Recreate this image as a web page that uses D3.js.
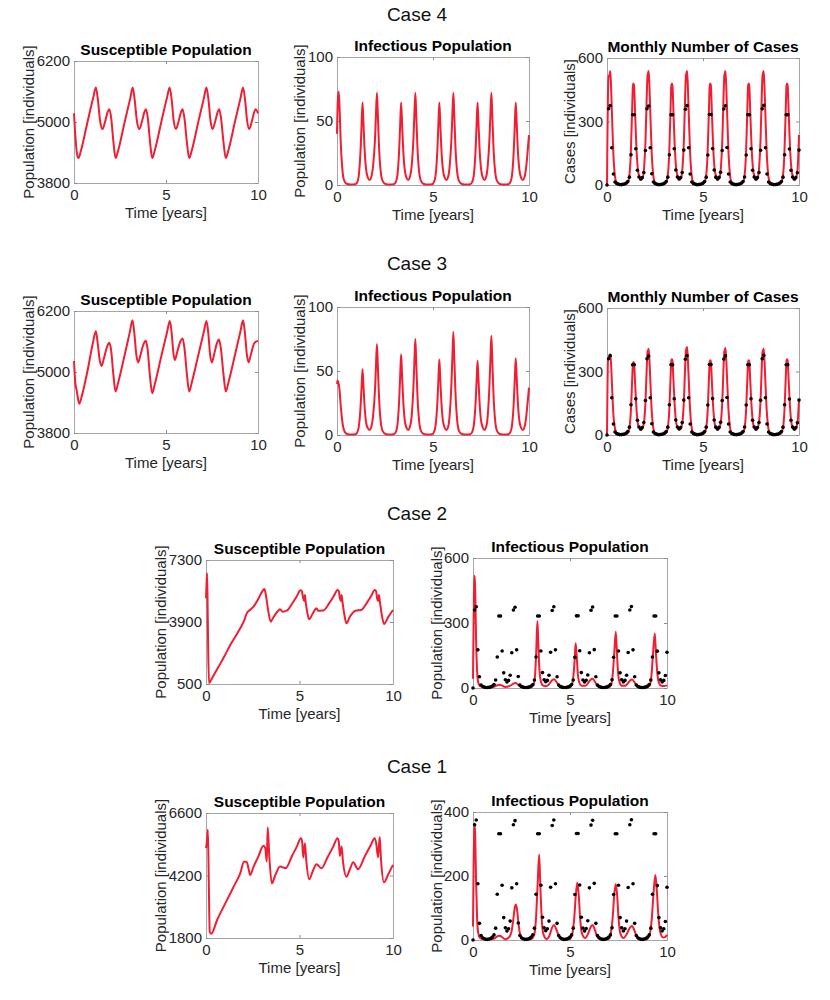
<!DOCTYPE html>
<html>
<meta charset="utf-8">
<style>
  body { margin: 0; background: #fff; }
  text { font-family: "Liberation Sans", Arial, Helvetica, sans-serif; }
  .case-title { font-size: 19px; fill: #111; }
  .panel-title { font-size: 15.5px; font-weight: bold; fill: #000; }
  .axis-label { font-size: 15px; fill: #262626; }
  .model { fill: none; stroke: #f01e32; stroke-width: 2; stroke-linejoin: round; }
  .data { fill: #000; }
</style>
<body>
<script src="https://d3js.org/d3.v7.min.js"></script>
<script>
  // x ticks (years)
  let xTicks = [0, 5, 10];

  // y ticks of each kind of panel
  let ticksS34 = [3800, 5000, 6200];
  let ticksI34 = [0, 50, 100];
  let ticksC34 = [0, 300, 600];
  let ticksS2 = [500, 3900, 7300];
  let ticksI2 = [0, 300, 600];
  let ticksS1 = [1800, 4200, 6600];
  let ticksI1 = [0, 200, 400];

  // observed monthly cases, one value per month from t = 0 to t = 10 years
  let monthlyCases = [
    0, 360, 375, 176, 52, 14, 7, 4, 2, 2, 3, 5, 9, 16, 37, 143, 332, 332, 171, 70, 38, 28, 35, 59,
    163, 360, 373, 176, 53, 14, 7, 4, 2, 2, 3, 5, 9, 16, 37, 143, 332, 332, 171, 71, 38, 29, 35, 59,
    165, 358, 375, 176, 52, 14, 7, 4, 2, 2, 3, 5, 9, 16, 37, 142, 333, 333, 172, 71, 37, 28, 36, 60,
    163, 359, 374, 177, 52, 14, 7, 4, 2, 2, 3, 5, 9, 16, 38, 142, 332, 332, 171, 70, 38, 28, 35, 59,
    164, 360, 376, 176, 52, 14, 7, 4, 2, 2, 3, 5, 9, 16, 37, 143, 332, 332, 170, 70, 38, 28, 35, 58,
    165
  ];

  // model curves, [time in years, value]
  let case4Susceptible = [
    [0,5170],[0.08,4700],[0.16,4380],[0.24,4290],
    [0.38,4440],[0.74,5010],[1.04,5470],[1.19,5680],[1.3,5430],[1.42,5020],[1.55,4860],[1.7,5020],[1.83,5200],[1.92,5250],[2.02,5080],[2.14,4620],[2.26,4290],
    [2.4,4440],[2.76,5010],[3.06,5470],[3.19,5680],[3.3,5430],[3.42,5020],[3.55,4860],[3.7,5020],[3.83,5200],[3.91,5250],[4.01,5080],[4.13,4620],[4.25,4290],
    [4.39,4440],[4.75,5010],[5.05,5470],[5.2,5680],[5.31,5430],[5.42,5020],[5.54,4860],[5.69,5020],[5.82,5200],[5.9,5250],[6.0,5080],[6.13,4620],[6.26,4290],
    [6.4,4440],[6.76,5010],[7.06,5470],[7.2,5680],[7.31,5430],[7.42,5020],[7.53,4860],[7.68,5020],[7.81,5200],[7.89,5250],[7.99,5080],[8.12,4620],[8.25,4290],
    [8.39,4440],[8.75,5010],[9.05,5470],[9.19,5680],[9.3,5430],[9.41,5020],[9.52,4860],[9.67,5020],[9.8,5200],[9.87,5250],[10,5170]
  ];

  let case4Infectious = [
    [0,40],[0.04,65],[0.09,73],[0.14,58],[0.19,35],[0.27,14],[0.36,4],[0.5,1],[0.7,0.3],[0.95,0.6],
    [1.05,2],[1.13,7],[1.23,28],[1.28,47],[1.33,64.5],[1.38,48],[1.43,30],[1.51,13],[1.6,6],[1.7,4],[1.8,7],[1.88,15],[1.98,36],[2.03,55],[2.08,72],[2.13,54],[2.18,33],[2.28,10],[2.38,3],[2.52,0.8],[2.75,0.3],[2.95,0.6],
    [3.05,2],[3.14,7],[3.24,28],[3.29,47],[3.34,64.5],[3.39,48],[3.44,30],[3.52,13],[3.61,6],[3.71,4],[3.81,7],[3.89,15],[3.98,36],[4.03,55],[4.08,72],[4.13,54],[4.18,33],[4.28,10],[4.38,3],[4.52,0.8],[4.75,0.3],[4.95,0.6],
    [5.04,2],[5.13,7],[5.23,28],[5.28,47],[5.33,64.5],[5.38,48],[5.43,30],[5.51,13],[5.6,6],[5.7,4],[5.8,7],[5.87,15],[5.96,36],[6.01,55],[6.06,72],[6.11,54],[6.16,33],[6.26,10],[6.36,3],[6.5,0.8],[6.73,0.3],[6.94,0.6],
    [7.03,2],[7.12,7],[7.22,28],[7.27,47],[7.32,64.5],[7.37,48],[7.42,30],[7.5,13],[7.59,6],[7.68,4],[7.78,7],[7.85,15],[7.94,36],[7.99,55],[8.04,72],[8.09,54],[8.14,33],[8.24,10],[8.34,3],[8.48,0.8],[8.71,0.3],[8.92,0.6],
    [9.02,2],[9.11,7],[9.21,28],[9.26,47],[9.31,64.5],[9.36,48],[9.41,30],[9.49,13],[9.58,6],[9.68,4],[9.78,7],[9.86,15],[9.95,30],[10,39]
  ];

  let case4Monthly = [
    [0,0],[0.02,200],[0.05,430],[0.09,515],[0.13,520],[0.17,539],[0.21,469],[0.27,302],[0.33,151],[0.4,54],[0.48,16],[0.63,4],[0.83,2],[0.98,5],
    [1.08,12],[1.16,41],[1.24,148],[1.31,359],[1.35,469],[1.38,479],[1.41,469],[1.46,350],[1.52,201],[1.6,81],[1.68,41],[1.78,24],
    [1.88,40],[1.94,92],[2.01,221],[2.07,420],[2.11,517],[2.14,528],[2.17,539],[2.21,469],[2.27,302],[2.33,151],[2.4,54],[2.48,16],[2.63,4],[2.83,2],[2.98,5],
    [3.08,12],[3.16,41],[3.24,148],[3.31,359],[3.35,469],[3.38,479],[3.41,469],[3.46,350],[3.52,201],[3.6,81],[3.68,41],[3.78,24],
    [3.88,40],[3.94,92],[4.01,221],[4.07,420],[4.11,517],[4.14,528],[4.17,539],[4.21,469],[4.27,302],[4.33,151],[4.4,54],[4.48,16],[4.63,4],[4.83,2],[4.98,5],
    [5.08,12],[5.16,41],[5.24,148],[5.31,359],[5.35,469],[5.38,479],[5.41,469],[5.46,350],[5.52,201],[5.6,81],[5.68,41],[5.78,24],
    [5.88,40],[5.94,92],[6.01,221],[6.07,420],[6.11,517],[6.14,528],[6.17,539],[6.21,469],[6.27,302],[6.33,151],[6.4,54],[6.48,16],[6.63,4],[6.83,2],[6.98,5],
    [7.08,12],[7.16,41],[7.24,148],[7.31,359],[7.35,469],[7.38,479],[7.41,469],[7.46,350],[7.52,201],[7.6,81],[7.68,41],[7.78,24],
    [7.87,40],[7.93,92],[8.0,221],[8.06,420],[8.1,517],[8.13,528],[8.16,539],[8.2,469],[8.26,302],[8.32,151],[8.39,54],[8.47,16],[8.62,4],[8.82,2],[8.97,5],
    [9.08,12],[9.16,41],[9.24,148],[9.31,359],[9.35,469],[9.38,479],[9.41,469],[9.46,350],[9.52,201],[9.6,81],[9.68,41],[9.78,24],[9.88,45],[9.95,110],[10,236]
  ];

  let case3Susceptible = [
    [0,5215],[0.07,4790],[0.14,4650],[0.29,4374],
    [0.42,4520],[0.75,5050],[1.02,5560],[1.19,5800],[1.29,5560],[1.4,5230],[1.5,5118],[1.62,5260],[1.8,5500],[1.92,5574],[2.02,5420],[2.14,4950],[2.26,4615],
    [2.4,4790],[2.75,5330],[3.03,5780],[3.18,6018],[3.28,5760],[3.39,5330],[3.49,5189],[3.61,5330],[3.78,5550],[3.9,5613],[4.0,5450],[4.12,4950],[4.25,4583],
    [4.39,4760],[4.75,5320],[5.05,5770],[5.21,6004],[5.31,5760],[5.4,5380],[5.48,5235],[5.6,5380],[5.78,5600],[5.9,5659],[6.0,5480],[6.13,4980],[6.26,4615],
    [6.4,4790],[6.76,5340],[7.05,5780],[7.2,6004],[7.3,5760],[7.4,5330],[7.49,5189],[7.61,5340],[7.77,5570],[7.88,5639],[7.98,5470],[8.12,4970],[8.25,4615],
    [8.39,4790],[8.75,5340],[9.04,5790],[9.19,6018],[9.29,5760],[9.4,5330],[9.49,5189],[9.61,5340],[9.8,5570],[10,5613]
  ];

  let case3Infectious = [
    [0,40],[0.03,42.5],[0.07,41],[0.12,37],[0.2,22],[0.3,8],[0.4,2.5],[0.52,0.8],[0.75,0.3],[0.95,0.5],
    [1.05,2],[1.13,6],[1.23,22.6],[1.28,37.5],[1.33,51.4],[1.38,38],[1.43,24],[1.51,10.3],[1.6,5.5],[1.7,4],[1.8,7],[1.88,15],[1.98,35.5],[2.03,54],[2.08,71],[2.13,53],[2.18,32.7],[2.28,10],[2.38,3],[2.52,0.8],[2.75,0.3],[2.95,0.6],
    [3.05,2],[3.14,7],[3.24,27.7],[3.29,46],[3.34,63],[3.39,46.6],[3.44,29.6],[3.52,12.6],[3.61,6],[3.71,4],[3.81,7],[3.89,15],[3.98,37.5],[4.03,57],[4.08,75],[4.13,56],[4.18,34.5],[4.28,10.5],[4.38,3],[4.52,0.8],[4.75,0.3],[4.95,0.6],
    [5.04,2],[5.13,7],[5.23,26],[5.28,43],[5.33,59],[5.38,43.7],[5.43,27.7],[5.51,11.8],[5.6,6],[5.7,4],[5.8,7],[5.87,16],[5.96,40],[6.01,61],[6.06,80.5],[6.11,60],[6.16,37],[6.26,11.3],[6.36,3],[6.5,0.8],[6.73,0.3],[6.94,0.6],
    [7.03,2],[7.12,7],[7.22,25.5],[7.27,42],[7.32,58],[7.37,43],[7.42,27],[7.5,11.6],[7.59,6],[7.68,4],[7.78,7],[7.85,15],[7.94,38.7],[7.99,59],[8.04,77.5],[8.09,58],[8.14,35.6],[8.24,10.8],[8.34,3],[8.48,0.8],[8.71,0.3],[8.92,0.6],
    [9.02,2],[9.11,7],[9.21,26.4],[9.26,44],[9.31,60],[9.36,44.4],[9.41,28],[9.49,12],[9.58,6],[9.68,4],[9.78,7],[9.86,15],[9.95,29],[10,37]
  ];

  let case3Monthly = [
    [0,0],[0.02,180],[0.05,355],[0.09,368],[0.13,375],[0.17,382],[0.21,340],[0.27,215],[0.33,100],[0.4,40],[0.48,12],[0.6,4],[0.85,2],[1.0,5],
    [1.08,9],[1.16,30],[1.24,107],[1.31,259],[1.35,338],[1.38,345],[1.41,338],[1.46,252],[1.52,145],[1.6,59],[1.68,33],[1.78,24],
    [1.88,40],[1.94,69],[2.01,167],[2.07,318],[2.11,392],[2.14,400],[2.17,408],[2.21,355],[2.27,228],[2.33,114],[2.4,41],[2.48,12],[2.63,4],[2.83,2],[2.98,5],
    [3.08,9],[3.16,30],[3.24,111],[3.31,268],[3.35,351],[3.38,358],[3.41,351],[3.46,261],[3.52,150],[3.6,61],[3.68,34],[3.78,24],
    [3.88,40],[3.94,71],[4.01,171],[4.07,324],[4.11,399],[4.14,408],[4.17,416],[4.21,362],[4.27,233],[4.33,116],[4.4,42],[4.48,12],[4.63,4],[4.83,2],[4.98,5],
    [5.08,9],[5.16,30],[5.24,109],[5.31,265],[5.35,346],[5.38,353],[5.41,346],[5.46,258],[5.52,148],[5.6,60],[5.68,33],[5.78,24],
    [5.88,40],[5.94,70],[6.01,168],[6.07,320],[6.11,395],[6.14,403],[6.17,411],[6.21,358],[6.27,230],[6.33,115],[6.4,41],[6.48,12],[6.63,4],[6.83,2],[6.98,5],
    [7.08,9],[7.16,30],[7.24,109],[7.31,265],[7.35,346],[7.38,353],[7.41,346],[7.46,258],[7.52,148],[7.6,60],[7.68,33],[7.78,24],
    [7.87,40],[7.93,69],[8.0,167],[8.06,318],[8.1,392],[8.13,400],[8.16,408],[8.2,355],[8.26,228],[8.32,114],[8.39,41],[8.47,12],[8.62,4],[8.82,2],[8.97,5],
    [9.08,9],[9.16,30],[9.24,111],[9.31,268],[9.35,351],[9.38,358],[9.41,351],[9.46,261],[9.52,150],[9.6,61],[9.68,34],[9.78,24],[9.88,40],[9.95,85],[10,170]
  ];

  let case2Susceptible = [
    [0,5200],[0.03,6000],[0.06,6570],[0.09,4500],[0.12,2200],[0.16,540],[0.3,780],[0.7,1500],[1.0,2050],[1.3,2640],[1.6,3150],[1.83,3553],[2.05,4000],[2.18,4375],[2.35,4560],[2.54,4741],[2.8,5180],[3.05,5640],[3.12,5710],
    [3.2,5400],[3.3,4700],[3.46,3919],[3.6,4150],[3.8,4450],[3.96,4595],[4.1,4467],[4.32,4522],[4.6,4900],[4.85,5300],[5.05,5640],[5.12,5600],
    [5.2,5198],[5.25,5050],[5.29,5381],[5.33,5000],[5.42,4400],[5.52,4047],[5.7,4350],[5.91,4650],[6.0,4522],[6.27,4530],[6.6,4950],[6.85,5350],[7.03,5655],[7.1,5600],
    [7.16,5198],[7.21,5050],[7.25,5381],[7.3,5000],[7.4,4300],[7.51,3827],[7.7,4200],[8.0,4522],[8.3,4558],[8.6,4950],[8.85,5350],[9.02,5655],[9.09,5600],
    [9.15,5198],[9.2,5050],[9.25,5381],[9.3,5000],[9.4,4300],[9.52,3790],[9.75,4180],[10,4558]
  ];

  let case2Infectious = [
    [0,43],[0.03,300],[0.06,480],[0.09,518],[0.12,420],[0.16,220],[0.21,80],[0.27,25],[0.35,10],[0.5,6],[0.8,4],[1.0,5],[1.15,8],[1.27,13],[1.37,15],[1.48,12],[1.66,5],[1.85,8],[2.0,15],[2.1,21],[2.2,23],[2.3,17],[2.42,7],[2.55,2.5],[2.8,1.5],
    [3.0,3],[3.12,15],[3.2,60],[3.26,170],[3.32,309],[3.37,200],[3.42,90],[3.5,30],[3.6,12],[3.75,8],[3.9,15],[4.05,33],[4.18,40],[4.3,28],[4.45,8],[4.6,2.5],[4.85,1.5],
    [5.0,3],[5.1,15],[5.18,60],[5.24,130],[5.29,206],[5.35,140],[5.41,60],[5.5,20],[5.6,10],[5.8,10],[5.95,25],[6.06,38],[6.16,43],[6.28,30],[6.42,9],[6.6,2.5],[6.85,1.5],
    [7.0,3],[7.12,15],[7.2,60],[7.28,160],[7.36,260],[7.42,160],[7.48,70],[7.56,25],[7.68,10],[7.85,10],[8.0,24],[8.1,35],[8.2,39],[8.32,27],[8.46,8],[8.6,2.5],[8.85,1.5],
    [9.0,3],[9.12,15],[9.2,60],[9.28,160],[9.37,252],[9.43,160],[9.5,70],[9.58,25],[9.7,10],[9.85,9],[10,12]
  ];

  let case1Susceptible = [
    [0,5249],[0.05,5500],[0.1,5957],[0.15,3900],[0.2,2032],[0.28,1967],[0.6,2500],[1.12,3254],[1.5,3800],[1.83,4284],[2.04,4734],[2.18,4709],[2.28,4450],[2.36,4220],[2.55,4550],[2.8,4927],[3.07,5339],[3.17,5250],
    [3.25,4734],[3.3,6047],[3.38,5000],[3.52,3898],[3.7,4200],[3.96,4541],[4.26,4477],[4.6,4950],[4.85,5300],[5.08,5635],[5.14,5500],
    [5.2,4889],[5.29,5442],[5.36,4800],[5.52,4052],[5.7,4350],[5.91,4631],[6.18,4477],[6.5,4900],[6.8,5300],[7.03,5635],[7.1,5500],
    [7.16,4950],[7.25,5313],[7.33,4700],[7.51,4155],[7.7,4450],[7.87,4709],[8.13,4438],[8.5,4950],[8.8,5350],[9.02,5635],[9.1,5450],
    [9.2,4900],[9.29,5674],[9.36,4800],[9.52,3936],[9.75,4250],[10,4606]
  ];

  let case1Infectious = [
    [0,42],[0.03,230],[0.06,340],[0.09,364],[0.12,310],[0.16,180],[0.21,70],[0.27,22],[0.35,7],[0.5,3],[0.8,2],[1.0,3],[1.15,7],[1.27,12],[1.37,13.5],[1.48,10],[1.66,2.5],[1.85,8],[1.98,25],[2.08,65],[2.15,100],[2.21,111],[2.27,95],[2.34,55],[2.42,20],[2.55,4],[2.8,1.5],
    [3.0,3],[3.15,15],[3.25,70],[3.33,170],[3.41,267],[3.47,170],[3.53,80],[3.62,20],[3.8,3],[3.95,15],[4.07,38],[4.18,47],[4.3,32],[4.45,9],[4.6,2.5],[4.85,1.5],
    [5.0,4],[5.12,20],[5.22,70],[5.3,140],[5.38,180],[5.45,140],[5.52,70],[5.62,20],[5.78,6],[5.95,22],[6.06,40],[6.16,47],[6.28,32],[6.42,9],[6.6,2.5],[6.85,1.5],
    [7.0,4],[7.1,20],[7.2,70],[7.28,140],[7.36,175],[7.43,140],[7.5,70],[7.6,20],[7.76,6],[7.95,22],[8.08,38],[8.2,44],[8.32,30],[8.46,8],[8.6,2.5],[8.85,1.5],
    [9.0,4],[9.12,20],[9.22,70],[9.31,150],[9.4,203],[9.47,160],[9.55,80],[9.65,25],[9.8,8],[9.92,10],[10,16]
  ];

  let width = 830,
    height = 1000;

  let svg = d3.select("body").append("svg")
    .attr("width", width)
    .attr("height", height);

  // case headings
  let caseTitles = [
    {text: "Case 4", y: 21},
    {text: "Case 3", y: 270},
    {text: "Case 2", y: 520},
    {text: "Case 1", y: 773}
  ];
  svg.selectAll(".case-title")
    .data(caseTitles)
    .join("text")
    .attr("class", "case-title")
    .attr("x", 417)
    .attr("y", d => d.y)
    .attr("text-anchor", "middle")
    .text(d => d.text);

  let popLabel = "Population [individuals]";

  let panels = [
    {l: 74, t: 61, r: 258, b: 183, title: "Susceptible Population", yLabel: popLabel, ticks: ticksS34, line: case4Susceptible, off: 40},
    {l: 337, t: 57, r: 529, b: 185, title: "Infectious Population", yLabel: popLabel, ticks: ticksI34, line: case4Infectious, off: 32},
    {l: 607, t: 58, r: 799, b: 185, title: "Monthly Number of Cases", yLabel: "Cases [individuals]", ticks: ticksC34, line: case4Monthly, dots: true, off: 32},
    {l: 74, t: 311, r: 258, b: 433, title: "Susceptible Population", yLabel: popLabel, ticks: ticksS34, line: case3Susceptible, off: 40},
    {l: 337, t: 307, r: 529, b: 435, title: "Infectious Population", yLabel: popLabel, ticks: ticksI34, line: case3Infectious, off: 32},
    {l: 607, t: 308, r: 799, b: 435, title: "Monthly Number of Cases", yLabel: "Cases [individuals]", ticks: ticksC34, line: case3Monthly, dots: true, off: 32},
    {l: 206, t: 560, r: 393, b: 684, title: "Susceptible Population", yLabel: popLabel, ticks: ticksS2, line: case2Susceptible, off: 40},
    {l: 473, t: 558, r: 667, b: 688, title: "Infectious Population", yLabel: popLabel, ticks: ticksI2, line: case2Infectious, dots: true, off: 31},
    {l: 206, t: 813, r: 393, b: 938, title: "Susceptible Population", yLabel: popLabel, ticks: ticksS1, line: case1Susceptible, off: 40},
    {l: 473, t: 812, r: 667, b: 940, title: "Infectious Population", yLabel: popLabel, ticks: ticksI1, line: case1Infectious, dots: true, off: 31}
  ];

  function styleAxis(g) {
    g.selectAll(".domain").attr("stroke", "#a6a6a6");
    g.selectAll(".tick line").attr("stroke", "#8c8c8c");
    g.selectAll("text")
      .attr("fill", "#262626")
      .style("font-size", "15px")
      .style("font-family", "'Liberation Sans', Arial, Helvetica, sans-serif");
  }

  function drawPanel(p) {
    let x = d3.scaleLinear().domain([0, 10]).range([p.l, p.r]);
    let y = d3.scaleLinear().domain([p.ticks[0], p.ticks[2]]).range([p.b, p.t]);

    // box with inward ticks on every side
    svg.append("g")
      .attr("transform", `translate(0,${p.b})`)
      .call(d3.axisBottom(x).tickValues(xTicks).tickFormat(d3.format("d")).tickSize(-3).tickPadding(6).tickSizeOuter(0))
      .call(styleAxis);
    svg.append("g")
      .attr("transform", `translate(0,${p.t})`)
      .call(d3.axisTop(x).tickValues(xTicks).tickSize(-3).tickFormat("").tickSizeOuter(0))
      .call(styleAxis);
    svg.append("g")
      .attr("transform", `translate(${p.l},0)`)
      .call(d3.axisLeft(y).tickValues(p.ticks).tickFormat(d3.format("d")).tickSize(-3).tickPadding(4).tickSizeOuter(0))
      .call(styleAxis);
    svg.append("g")
      .attr("transform", `translate(${p.r},0)`)
      .call(d3.axisRight(y).tickValues(p.ticks).tickSize(-3).tickFormat("").tickSizeOuter(0))
      .call(styleAxis);

    let line = d3.line()
      .x(d => x(d[0]))
      .y(d => y(d[1]))
      .curve(d3.curveMonotoneX);

    svg.append("path")
      .datum(p.line)
      .attr("class", "model")
      .attr("d", line);

    if (p.dots) {
      svg.append("g")
        .selectAll("circle")
        .data(monthlyCases)
        .join("circle")
        .attr("class", "data")
        .attr("cx", (d, i) => x(i / 12))
        .attr("cy", d => y(d))
        .attr("r", 1.8);
    }

    svg.append("text")
      .attr("class", "panel-title")
      .attr("x", (p.l + p.r) / 2)
      .attr("y", p.t - 6)
      .attr("text-anchor", "middle")
      .text(p.title);

    svg.append("text")
      .attr("class", "axis-label")
      .attr("x", (p.l + p.r) / 2)
      .attr("y", p.b + 35)
      .attr("text-anchor", "middle")
      .text("Time [years]");

    svg.append("text")
      .attr("class", "axis-label")
      .attr("transform", `translate(${p.l - p.off},${(p.t + p.b) / 2}) rotate(-90)`)
      .attr("text-anchor", "middle")
      .text(p.yLabel);
  }

  panels.forEach(drawPanel);
</script>
</body>
</html>
